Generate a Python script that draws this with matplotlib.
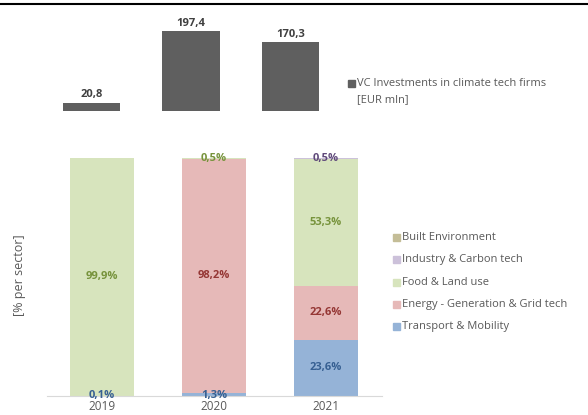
import matplotlib
matplotlib.use("Agg")
import matplotlib.pyplot as plt
from matplotlib.patches import Rectangle
from matplotlib.lines import Line2D

years = ["2019", "2020", "2021"]
vc_invest = [20.8, 197.4, 170.3]
vc_labels = ["20,8", "197,4", "170,3"]

sectors = ["Transport & Mobility", "Energy - Generation & Grid tech", "Food & Land use",
           "Industry & Carbon tech", "Built Environment"]
shares = {
    "Transport & Mobility": [0.1, 1.3, 23.6],
    "Energy - Generation & Grid tech": [0.0, 98.2, 22.6],
    "Food & Land use": [99.9, 0.5, 53.3],
    "Industry & Carbon tech": [0.0, 0.0, 0.5],
    "Built Environment": [0.0, 0.0, 0.0],
}
fill_colors = {
    "Transport & Mobility": "#95b3d7",
    "Energy - Generation & Grid tech": "#e6b9b8",
    "Food & Land use": "#d7e4bd",
    "Industry & Carbon tech": "#ccc1da",
    "Built Environment": "#c4bd97",
}
text_colors = {
    "Transport & Mobility": "#376092",
    "Energy - Generation & Grid tech": "#953735",
    "Food & Land use": "#77933c",
    "Industry & Carbon tech": "#604a7b",
    "Built Environment": "#948a54",
}

plt.rcParams['font.family'] = ['Open Sans', 'DejaVu Sans']
W, H = 588, 415
fig = plt.figure(figsize=(W / 100, H / 100), dpi=100)

def fx(px):
    return px / W

def fy(py):
    return 1 - py / H

# top black line
fig.add_artist(Line2D([0, 1], [fy(4), fy(4)], color="black", lw=1.5))

# --- top panel ---
top_ylim = 220
top_h = top_ylim * 80 / 197.4
axt = fig.add_axes([fx(41.75), fy(111), fx(298.5), top_h / H])
x = range(len(years))
axt.bar(x, vc_invest, width=0.573, color="#5f5f5f")
for xi, v, lab in zip(x, vc_invest, vc_labels):
    axt.text(xi, v + 6, lab, ha="center", va="bottom", fontsize=8, fontweight="bold", color="#404040")
axt.set_xlim(-0.5, 2.5)
axt.set_ylim(0, top_ylim)
axt.axis("off")

# --- bottom panel ---
axb = fig.add_axes([fx(47), fy(396), fx(335), 238.3 / H])
bottom = [0.0, 0.0, 0.0]
for s in sectors:
    vals = shares[s]
    axb.bar(x, vals, width=0.571, bottom=bottom, color=fill_colors[s])
    for xi, v, b in zip(x, vals, bottom):
        if v > 0:
            lab = f"{v:.1f}".replace(".", ",") + "%"
            yc = b + v / 2
            if v < 2 and b < 1:
                yc = 0.2
            axb.text(xi, yc, lab, ha="center", va="center", fontsize=8,
                     fontweight="bold", color=text_colors[s])
    bottom = [b + v for b, v in zip(bottom, vals)]
axb.set_xlim(-0.49, 2.5)
axb.set_ylim(0, 100)
for sp in ["top", "right", "left"]:
    axb.spines[sp].set_visible(False)
axb.spines["bottom"].set_color("#d9d9d9")
axb.set_yticks([])
axb.set_xticks(list(x))
axb.set_xticklabels(years, fontsize=8.5, color="#595959")
axb.tick_params(axis="x", length=0, pad=3)

fig.text(fx(20), fy(275), "[% per sector]", rotation=90, ha="center", va="center",
         fontsize=9, color="#595959")

# legends
fig.add_artist(Rectangle((fx(348), fy(87.5)), fx(7), 7 / H, color="#5f5f5f", transform=fig.transFigure))
fig.text(fx(357), fy(84), "VC Investments in climate tech firms", ha="left", va="center",
         fontsize=8, color="#595959")
fig.text(fx(357), fy(100), "[EUR mln]", ha="left", va="center", fontsize=8, color="#595959")

leg_y = [237.3, 259, 282.3, 304, 326]
for s, yy in zip(sectors[::-1], leg_y):
    fig.add_artist(Rectangle((fx(392.5), fy(yy + 3.5)), fx(7), 7 / H, color=fill_colors[s],
                             transform=fig.transFigure))
    fig.text(fx(402), fy(yy), s, ha="left", va="center", fontsize=8, color="#595959")

fig.savefig("out.png", dpi=100)
